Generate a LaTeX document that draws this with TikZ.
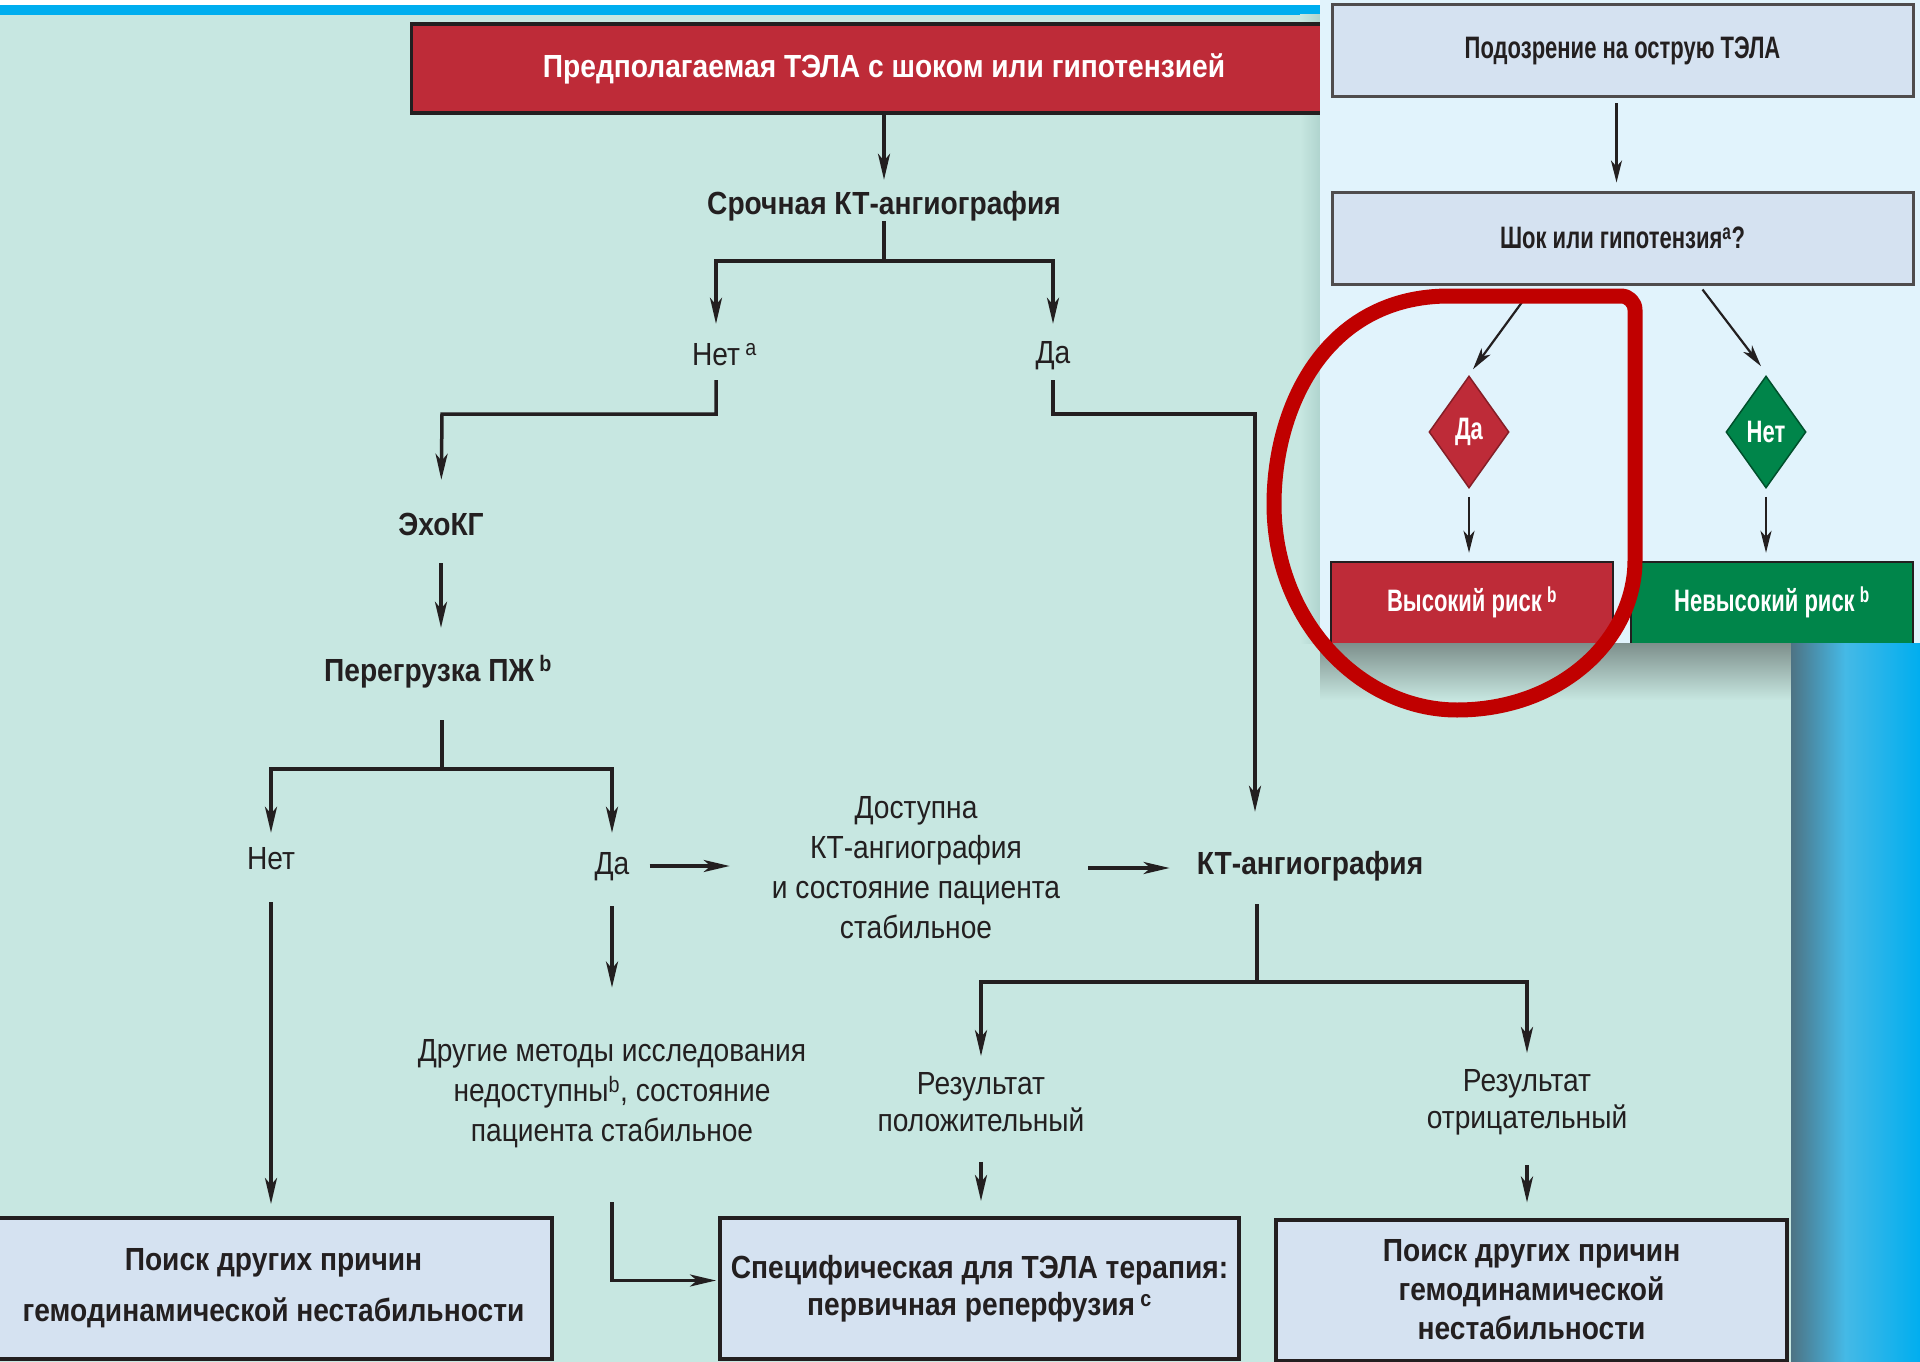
\documentclass[tikz,border=0pt]{standalone}
\usepackage{fontspec}
\setmainfont{Liberation Sans}[FakeStretch=0.88]
\newfontfamily\pfont{Liberation Sans}[FakeStretch=0.71]
\usetikzlibrary{arrows.meta,shapes.geometric,calc}
\definecolor{bgteal}{HTML}{C7E7E1}
\definecolor{topblue}{HTML}{00AEEF}
\definecolor{boxred}{HTML}{BE2B38}
\definecolor{boxgreen}{HTML}{00854A}
\definecolor{panelbg}{HTML}{E1F3FC}
\definecolor{boxfill}{HTML}{D5E2F1}
\definecolor{ink}{HTML}{231F20}
\definecolor{ringred}{HTML}{C00000}
\definecolor{shadowgray}{HTML}{7D8F8B}
\definecolor{stripdark}{HTML}{4D7384}
\definecolor{stripmid}{HTML}{45B9E6}
\newcommand{\fmain}{\fontsize{32}{40}\selectfont}
\newcommand{\fpanel}{\pfont\fontsize{31}{36}\selectfont}
\tikzset{
  lbl/.style={inner sep=0pt, text=ink, font=\fmain, text height=23pt, text depth=7pt},
  blbl/.style={lbl, font=\fmain\bfseries},
  mlbl/.style={inner sep=0pt, text=ink, font=\fmain, align=center},
  ln/.style={draw=ink, line width=3.5pt},
  arr/.style={ln, -{Stealth[length=26pt,width=12pt,inset=7pt]}},
  parr/.style={draw=ink, line width=2.2pt, -{Stealth[length=22pt,width=11pt,inset=6pt]}},
  lowbox/.style={draw=ink, line width=4pt, fill=boxfill, inner sep=0pt, text=ink, font=\fmain\bfseries, align=center, minimum height=141pt},
  pbox/.style={draw=ink!80, line width=3pt, fill=boxfill, inner sep=0pt, text=ink, font=\fpanel\bfseries, align=center, minimum width=581pt, minimum height=92pt},
  dia/.style={diamond, inner sep=0pt, minimum width=80pt, minimum height=112pt, text=white, font=\fpanel\bfseries, line width=1.5pt},
  riskbox/.style={inner sep=0pt, minimum width=282pt, minimum height=81pt, text=white, font=\fpanel\bfseries},
  ring/.style={draw=ringred, line width=15pt, line cap=round, line join=round},
}
\begin{document}
\begin{tikzpicture}[x=1pt,y=-1pt]
\useasboundingbox (0,0) rectangle (1920,1362);
% background
\fill[bgteal] (0,0) rectangle (1920,1362);
\fill[white] (0,0) rectangle (1320,5);
\fill[topblue] (0,5) rectangle (1320,15);
\shade[left color=bgteal, right color={rgb,255:red,176;green,212;blue,206}] (1300,15) rectangle (1320,643);

% ---------- left flowchart ----------
\node[draw=ink, line width=3.5pt, fill=boxred, minimum width=945pt, minimum height=89pt, inner sep=0pt, text=white, font=\fmain\bfseries] (top) at (884,68.5) {Предполагаемая ТЭЛА с шоком или гипотензией};

\node[blbl] (ct1) at (884,206) {Срочная КТ-ангиография};
\node[lbl] (net1) at (716,357) {Нет\rlap{\,\textsuperscript{a}}};
\node[lbl] (da1) at (1053,355) {Да};
\node[blbl] (echo) at (441,527) {ЭхоКГ};
\node[blbl] (pereg) at (438,673) {Перегрузка ПЖ\,\textsuperscript{b}};
\node[lbl] (net2) at (271,861) {Нет};
\node[lbl] (da2) at (612,866) {Да};
\node[mlbl] (access) at (916,868) {Доступна\\КТ-ангиография\\и состояние пациента\\стабильное};
\node[blbl] (ct2) at (1310,866) {КТ-ангиография};
\node[mlbl] (other) at (612,1094) {Другие методы исследования\\недоступны\textsuperscript{b}, состояние\\пациента стабильное};
\node[mlbl, font=\fontsize{32}{37}\selectfont] (pos) at (981,1102) {Результат\\положительный};
\node[mlbl, font=\fontsize{32}{37}\selectfont] (neg) at (1527,1102) {Результат\\отрицательный};

\node[lowbox, minimum width=557pt, font=\fontsize{32}{51}\selectfont\bfseries] (box1) at (273.5,1288.5) {Поиск других причин\\гемодинамической нестабильности};
\node[lowbox, minimum width=519pt, font=\fontsize{32}{37}\selectfont\bfseries] (box2) at (979.5,1288.5) {Специфическая для ТЭЛА терапия:\\первичная реперфузия\,\textsuperscript{c}};
\node[lowbox, minimum width=511pt, font=\fontsize{32}{39}\selectfont\bfseries] (box3) at (1531.5,1290) {Поиск других причин\\гемодинамической\\нестабильности};

\coordinate (b1) at (884,261);
\coordinate (b2) at (442,414);
\coordinate (b4) at (1255,414);
\coordinate (b3) at (442,769);
\coordinate (b5) at (1257,982);

\draw[arr, shorten >=11pt] (top.south) -- (ct1.north);
\draw[ln] (ct1.south) -- (b1);
\draw[arr, shorten >=18pt] (b1) -| (net1.north);
\draw[arr, shorten >=16pt] (b1) -| (da1.north);
\draw[arr, shorten <=8pt, shorten >=32pt] (net1.south) |- (b2) -- (echo.north);
\draw[arr, shorten <=10pt, shorten >=39pt] (da1.south) |- (b4) -- (b4 |- ct2.north);
\draw[arr, shorten <=21pt, shorten >=30pt] (echo.south) -- (echo.south |- pereg.north);
\draw[ln, shorten <=32pt] (b3 |- pereg.south) -- (b3);
\draw[arr, shorten >=13pt] (b3) -| (net2.north);
\draw[arr, shorten >=18pt] (b3) -| (da2.north);
\draw[arr, shorten <=26pt, shorten >=12pt] (net2.south) -- (net2.south |- box1.north);
\draw[arr, shorten <=25pt, shorten >=52pt] (da2.south) -- (other.north);
\draw[arr, shorten <=54pt, shorten >=2pt] (other.south) |- ([yshift=8pt]box2.west);
\draw[arr, shorten <=20pt, shorten >=42pt] (da2.east) -- (da2.east -| access.west);
\draw[arr, shorten <=28pt, shorten >=27pt] (access.east) -- (access.east -| ct2.west);
\draw[ln, shorten <=23pt] (b5 |- ct2.south) -- (b5);
\draw[arr, shorten >=16pt] (b5) -| (pos.north);
\draw[arr, shorten >=16pt] (b5) -| (neg.north);
\draw[arr, shorten <=30pt, shorten >=15pt] (pos.south) -- (pos.south |- box2.north);
\draw[arr, shorten <=30pt, shorten >=15pt] (neg.south) -- (neg.south |- box3.north);

% ---------- right panel ----------
\fill[panelbg] (1320,0) rectangle (1920,643);
\shade[top color=shadowgray, bottom color=bgteal] (1320,643) rectangle (1791,700);
\shade[left color=stripdark, right color=stripmid] (1791,643) rectangle (1845,1362);
\shade[left color=stripmid, right color=topblue] (1845,643) rectangle (1920,1362);

\node[pbox] (susp) at (1622.5,51) {Подозрение на острую ТЭЛА};
\node[pbox] (shock) at (1622.5,238) {Шок или гипотензия\textsuperscript{a}?};
\node[dia, fill=boxred, draw=boxred!70!black] (daD) at (1469,432) {Да};
\node[dia, fill=boxgreen, draw=boxgreen!60!black] (netD) at (1766,432) {Нет};
\node[riskbox, fill=boxred] (hi) at (1472,602.5) {Высокий риск\,\textsuperscript{b}};
\node[riskbox, fill=boxgreen] (lo) at (1772,602.5) {Невысокий риск\,\textsuperscript{b}};
\draw[ink, line width=2.5pt] (hi.south west) |- (hi.north east) -- (hi.south east);
\draw[ink, line width=2.5pt] (lo.south west) |- (lo.north east) -- (lo.south east);

\draw[parr, shorten <=5pt, shorten >=8pt] ([xshift=-6pt]susp.south) -- ([xshift=-6pt]shock.north);
\draw[parr] ([xshift=-100pt,yshift=-16pt]shock.south) -- ([xshift=4pt,yshift=6pt]daD.north);
\draw[parr] ([xshift=80pt,yshift=-4pt]shock.south) -- ([xshift=-5pt,yshift=9pt]netD.north);
\draw[parr, shorten <=8pt, shorten >=9pt] (daD.south) -- (daD.south |- hi.north);
\draw[parr, shorten <=8pt, shorten >=9pt] (netD.south) -- (netD.south |- lo.north);

% red highlight ring
\draw[ring] (1635,560) [rounded corners=14pt] -- (1635,296) -- (1463,296) [sharp corners]
  .. controls (1330,296) and (1275,400) .. (1274,502)
  .. controls (1273,620) and (1360,710) .. (1457,710)
  .. controls (1560,710) and (1635,640) .. (1635,560);
\end{tikzpicture}
\end{document}
